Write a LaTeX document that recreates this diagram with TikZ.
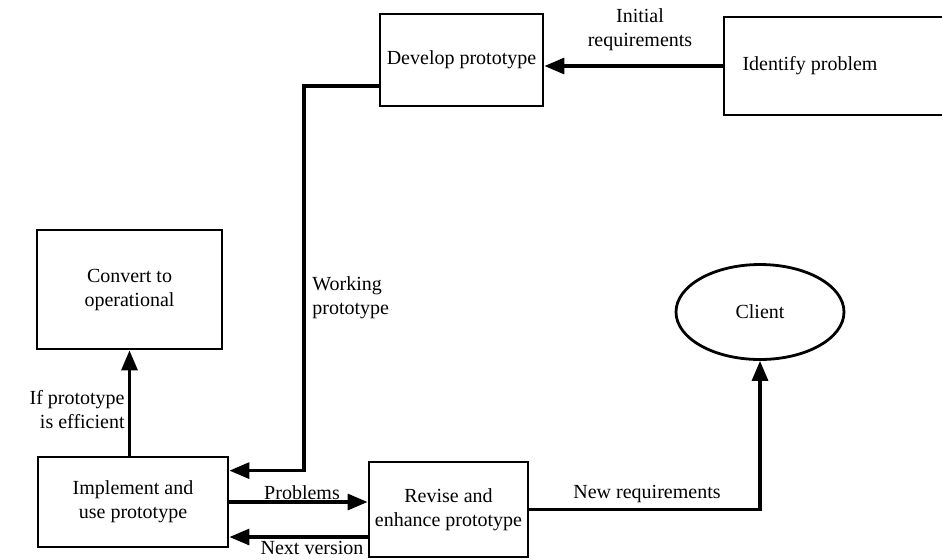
\documentclass[tikz,border=0pt]{standalone}
\usepackage{fontspec}
\setmainfont{Liberation Serif}
\usetikzlibrary{calc,shapes.geometric,arrows.meta}
\tikzset{
	stepbox/.style={draw, line width=1.4pt, rectangle, inner sep=0pt, align=center, font=\fontsize{10}{12}\selectfont},
	flow/.style={line width=1.6pt, -{Triangle[length=10pt,width=8pt]}},
	lbl/.style={inner sep=1pt, align=center, font=\fontsize{10}{12}\selectfont}
}

\begin{document}
\begin{tikzpicture}[x=0.5pt, y=-0.5pt]
			%%%%% START %%%%%
			\useasboundingbox (0, 0) rectangle (942, 559);
			
			\node[stepbox, minimum width=81.5pt, minimum height=46pt] (develop) at (461.5, 60) {Develop prototype};
			\node[stepbox, minimum width=113pt, minimum height=49pt] (identify) at (837, 66) {Identify problem\hspace*{27pt}};
			
			\node[stepbox, minimum width=92.5pt, minimum height=59.5pt] (convert) at (129.5, 289.5) {Convert to\\operational};
			\node[stepbox, minimum width=95pt, minimum height=45pt] (implement) at (133, 502) {Implement and\\use prototype};
			\node[stepbox, minimum width=79.5pt, minimum height=47.5pt] (revise) at (448.5, 509.5) {Revise and\\enhance prototype};
			
			\node[stepbox, ellipse, minimum width=84pt, minimum height=47.5pt] (client) at (760, 312) {Client};
			
			\coordinate (wpturn) at (304, 86);
			\coordinate (nv) at ($(implement.east)+(0, 35)$);
			
			\draw[flow] (identify.west) -- (identify.west -| develop.east);
			\draw[flow] (wpturn -| develop.west) -- (wpturn) |- ($(implement.north east)+(0, 15)$);
			\draw[flow] (implement.north -| convert.south) -- (convert.south);
			\draw[flow] (implement.east) -- (implement.east -| revise.west);
			\draw[flow] (nv -| revise.west) -- (nv);
			\draw[flow] (revise.east) -| (client.south);
			
			\node[lbl] (initlbl) at (640, 30) {Initial\\requirements};
			\node[lbl, anchor=west, align=left] (worklbl) at (310, 298) {Working\\prototype};
			\node[lbl, anchor=east, align=right] (efflbl) at (127, 410) {If prototype\\is efficient};
			\node[lbl, anchor=south] (problbl) at (302, 502) {Problems};
			\node[lbl, anchor=north] (nvlbl) at (312, 539) {Next version};
			\node[lbl, anchor=south] (newlbl) at (647, 505) {New requirements};
			
			%%%%% END %%%%%
\end{tikzpicture}
\end{document}
